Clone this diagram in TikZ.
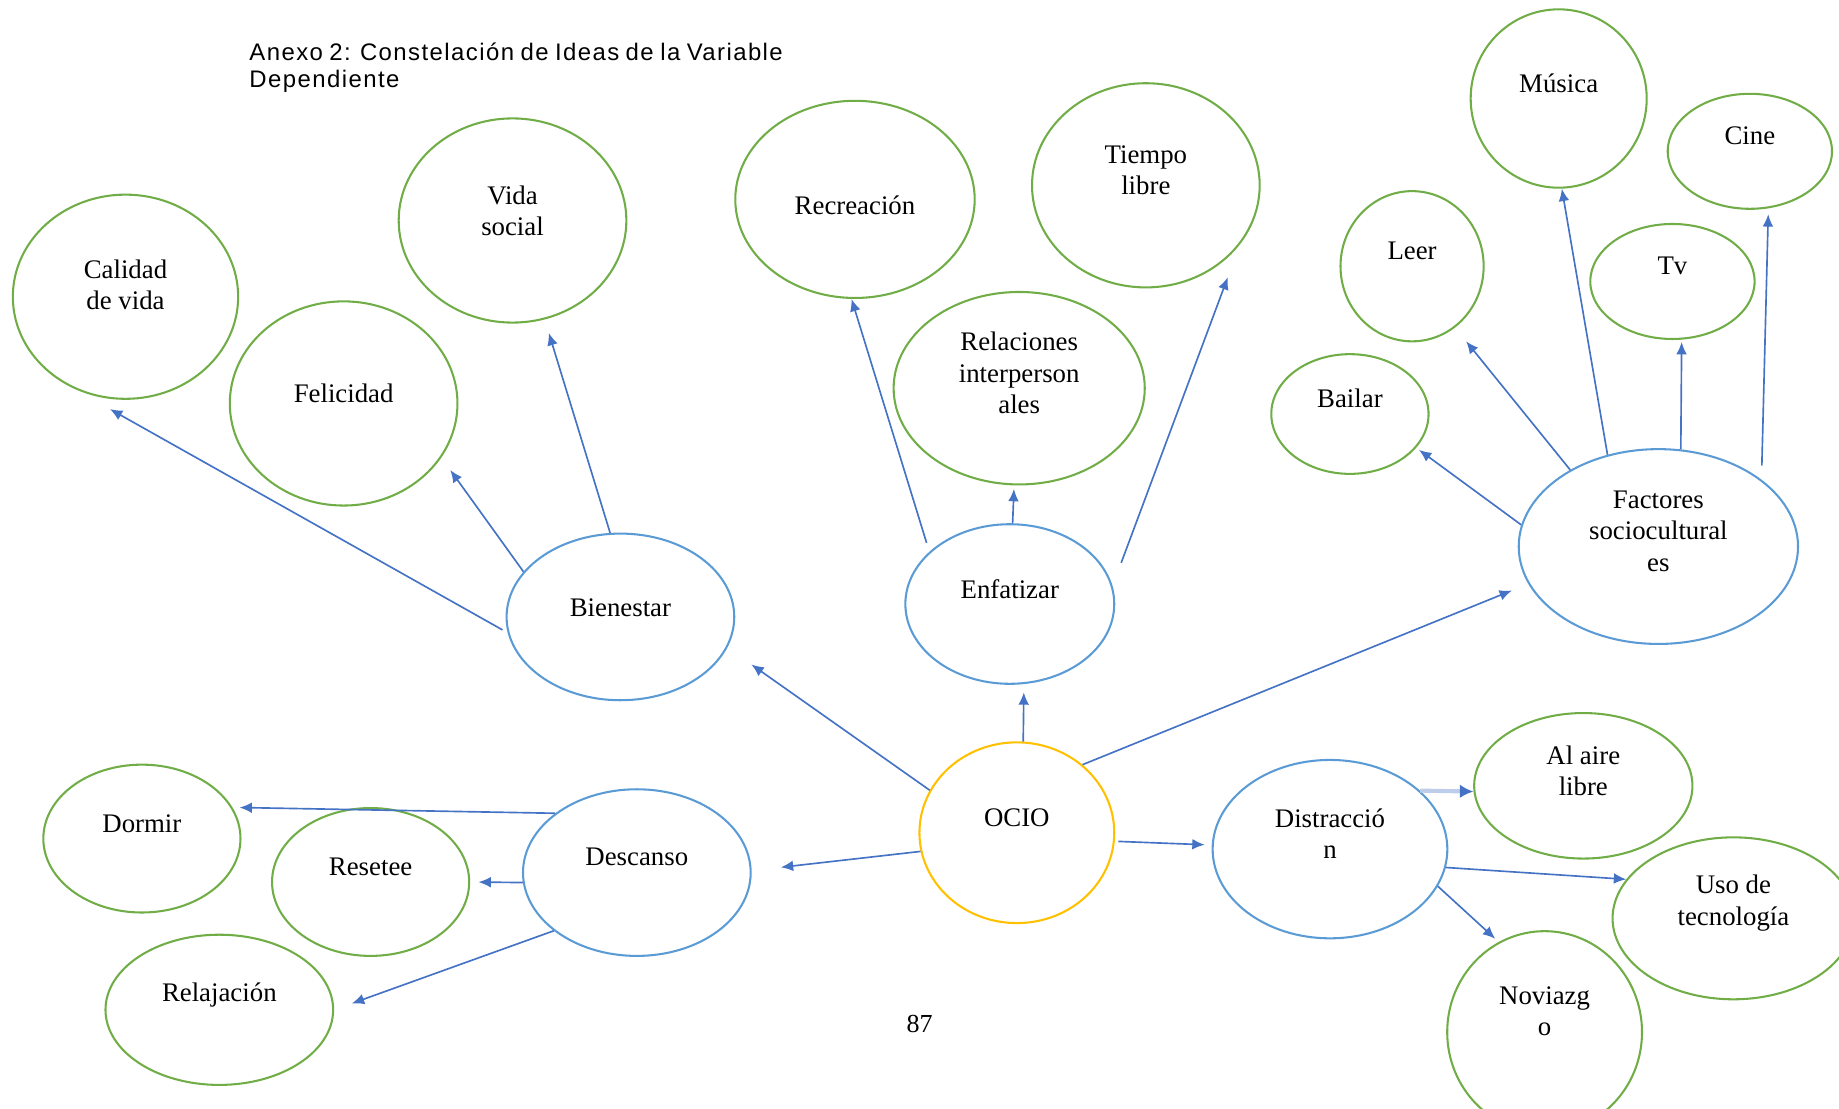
\documentclass[tikz,border=0pt]{standalone}
\usepackage{fontspec}
\setmainfont{Liberation Serif}
\newfontfamily\titlefamily[LetterSpace=6, WordSpace=0.8]{Liberation Sans}
\usepackage{xcolor}
\usetikzlibrary{shapes.geometric, arrows.meta}

\definecolor{ideagreen}{RGB}{112,173,71}
\definecolor{branchblue}{RGB}{91,155,213}
\definecolor{coreyellow}{RGB}{255,192,0}
\definecolor{arrowblue}{RGB}{68,114,196}

\begin{document}
\begin{tikzpicture}[x=0.01cm, y=-0.01cm]

        % Block definitions
        \tikzstyle{idea} = [draw=ideagreen, ellipse, line width=0.5pt, inner sep=0pt]
        \tikzstyle{branch} = [idea, draw=branchblue]
        \tikzstyle{core} = [idea, draw=coreyellow]
        \tikzstyle{txt} = [align=center, inner sep=0pt, font=\fontsize{6.5}{7.6}\selectfont, yshift=0.13cm]
        \tikzstyle{link} = [->, >={Latex[length=3pt, width=2.6pt]}, draw=arrowblue, line width=0.4pt]

        \useasboundingbox (0,0) rectangle (1568,945);

        % Title and page number
        \node[anchor=north west, align=left, inner sep=0pt, font=\titlefamily\fontsize{5.8}{6.6}\selectfont] (title) at (212,36) {Anexo 2: Constelación de Ideas de la Variable\\Dependiente};
        \node[font=\fontsize{6.3}{7}\selectfont] (page) at (784,873) {87};

        % Center
        \node[core, minimum width=1.66cm, minimum height=1.54cm, label={[txt]center:OCIO}] (ocio) at (867,710) {};

        % Branches
        \node[branch, minimum width=1.94cm, minimum height=1.42cm, label={[txt, yshift=-0.05cm]center:Bienestar}] (bien) at (529,526) {};
        \node[branch, minimum width=1.78cm, minimum height=1.36cm, label={[txt]center:Enfatizar}] (enf) at (861,515) {};
        \node[branch, minimum width=2.38cm, minimum height=1.66cm, label={[txt]center:Factores\\sociocultural\\es}] (fac) at (1414,466) {};
        \node[branch, minimum width=2.00cm, minimum height=1.52cm, label={[txt]center:Distracció\\n}] (dist) at (1134,724) {};
        \node[branch, minimum width=1.94cm, minimum height=1.42cm, label={[txt]center:Descanso}] (desc) at (543,744) {};

        % Ideas
        \node[idea, minimum width=1.92cm, minimum height=1.74cm, label={[txt, yshift=-0.03cm]center:Calidad\\de vida}] (cal) at (107,253) {};
        \node[idea, minimum width=1.94cm, minimum height=1.74cm, label={[txt, yshift=-0.04cm]center:Felicidad}] (fel) at (293,344) {};
        \node[idea, minimum width=1.94cm, minimum height=1.74cm, label={[txt, yshift=-0.05cm]center:Vida\\social}] (vida) at (437,188) {};
        \node[idea, minimum width=2.04cm, minimum height=1.68cm, label={[txt, yshift=-0.18cm]center:Recreación}] (recr) at (729,170) {};
        \node[idea, minimum width=1.94cm, minimum height=1.74cm, label={[txt]center:Tiempo\\libre}] (tiem) at (977,158) {};
        \node[idea, minimum width=2.14cm, minimum height=1.64cm, label={[txt]center:Relaciones\\interperson\\ales}] (rel) at (869,331) {};
        \node[idea, minimum width=1.50cm, minimum height=1.52cm, label={[txt]center:Música}] (mus) at (1329,84) {};
        \node[idea, minimum width=1.40cm, minimum height=0.98cm, label={[txt]center:Cine}] (cine) at (1492,129) {};
        \node[idea, minimum width=1.22cm, minimum height=1.28cm, label={[txt]center:Leer}] (leer) at (1204,227) {};
        \node[idea, minimum width=1.40cm, minimum height=0.98cm, label={[txt]center:Tv}] (tv) at (1426,240) {};
        \node[idea, minimum width=1.34cm, minimum height=1.02cm, label={[txt]center:Bailar}] (bail) at (1151,353) {};
        \node[idea, minimum width=1.86cm, minimum height=1.24cm, label={[txt]center:Al aire\\libre}] (aire) at (1350,670) {};
        \node[idea, minimum width=2.06cm, minimum height=1.38cm, label={[txt]center:Uso de\\tecnología}] (uso) at (1478,783) {};
        \node[idea, minimum width=1.66cm, minimum height=1.72cm, label={[txt, yshift=0.05cm]center:Noviazg\\o}] (novi) at (1317,880) {};
        \node[idea, minimum width=1.68cm, minimum height=1.26cm, label={[txt]center:Dormir}] (dorm) at (121,715) {};
        \node[idea, minimum width=1.68cm, minimum height=1.26cm, label={[txt]center:Resetee}] (rese) at (316,752) {};
        \node[idea, minimum width=1.94cm, minimum height=1.28cm, label={[txt]center:Relajación}] (rela) at (187,861) {};

        % Arrows from the center
        \draw[link, shorten >=0.25cm] (ocio.154) -- (bien.-16);
        \draw[link, shorten >=0.07cm] (ocio.86) -- (enf.-80);
        \draw[link, shorten >=0.15cm] (ocio.46) -- (fac.196);
        \draw[link, shorten >=0.06cm, shorten <=0.03cm] (ocio.-5) -- (dist.178);
        \draw[link, shorten >=0.25cm] (ocio.191) -- (desc.1);

        % Arrows from the branches
        \draw[link, shorten >=0.38cm, shorten <=0.05cm] (bien.188) -- (cal.-121);
        \draw[link, shorten >=0.13cm] (bien.155) -- (fel.-29);
        \draw[link, shorten >=0.12cm] (bien.97) -- (vida.-72);

        \draw[link, shorten <=0.08cm] (enf.147) -- (recr.-92);
        \draw[link, shorten >=0.03cm] (enf.88) -- (rel.-93);
        \draw[link, shorten >=0.3cm, shorten <=0.21cm] (enf.10) -- (tiem.-32);

        \draw[link, shorten >=0.03cm] (fac.171) -- (bail.-27);
        \draw[link, shorten >=0.15cm] (fac.139) -- (leer.-55);
        \draw[link] (fac.119) -- (mus.-88);
        \draw[link, shorten >=0.02cm] (fac.77) -- (tv.-81);
        \draw[link, shorten >=0.05cm, shorten <=0.12cm] (fac.33) -- (cine.-72);

        \draw[link, draw=arrowblue!35, line width=1pt, >={Latex[length=3.3pt, width=3.3pt, color=arrowblue]}] (dist.33) -- (aire.-177);
        \draw[link] (dist.-9) -- (uso.160);
        \draw[link, shorten >=0.04cm] (dist.-19) -- (novi.117);

        \draw[link, shorten >=0.06cm] (desc.144) -- (dorm.19);
        \draw[link, shorten >=0.07cm] (desc.185) -- (rese.0);
        \draw[link, shorten >=0.16cm] (desc.215) -- (rela.0);

\end{tikzpicture}
\end{document}
